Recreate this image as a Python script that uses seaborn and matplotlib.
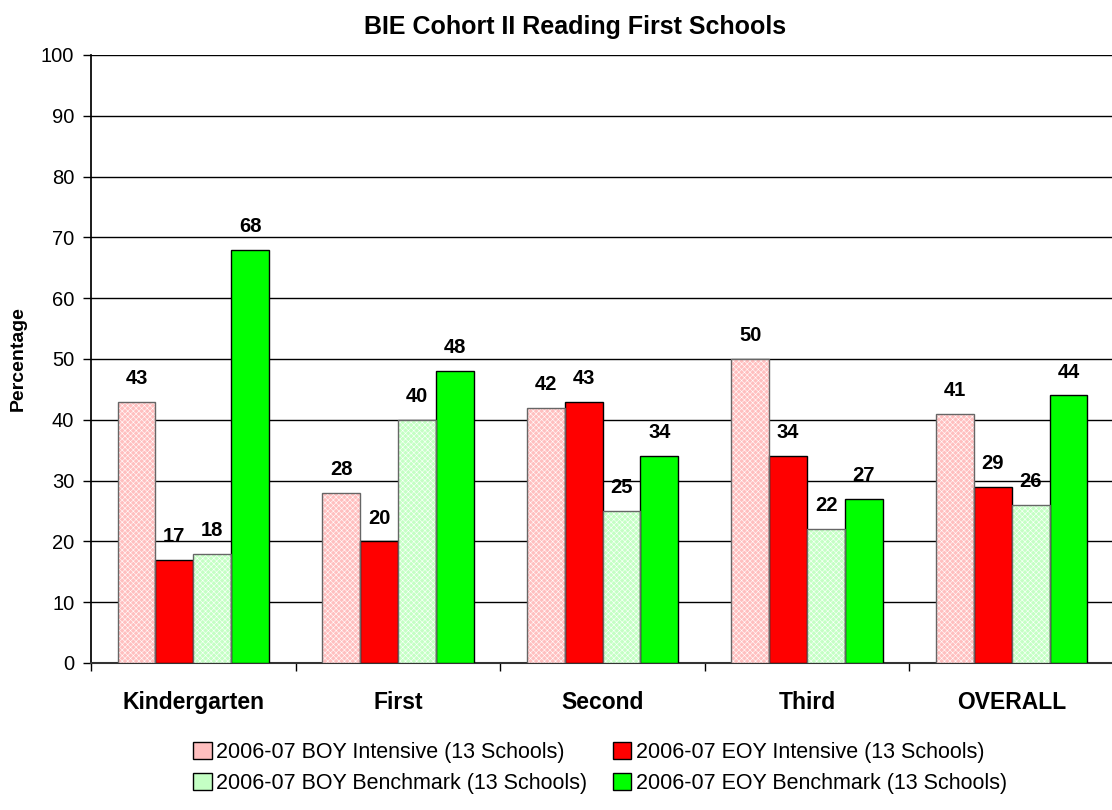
import matplotlib
matplotlib.use("Agg")
import matplotlib.pyplot as plt
import seaborn as sns
import pandas as pd
from matplotlib.patches import Rectangle, Patch

categories = ["Kindergarten", "First", "Second", "Third", "OVERALL"]
series = ["2006-07 BOY Intensive (13 Schools)", "2006-07 EOY Intensive (13 Schools)",
          "2006-07 BOY Benchmark (13 Schools)", "2006-07 EOY Benchmark (13 Schools)"]
boy_intensive = [43, 28, 42, 50, 41]
eoy_intensive = [17, 20, 43, 34, 29]
boy_benchmark = [18, 40, 25, 22, 26]
eoy_benchmark = [68, 48, 34, 27, 44]
yticks = [0, 10, 20, 30, 40, 50, 60, 70, 80, 90, 100]

colors = ["#FFBFBF", "#FF0000", "#C4FFC4", "#00FF00"]
hatched = [True, False, True, False]

rows = []
for s, vals in zip(series, [boy_intensive, eoy_intensive, boy_benchmark, eoy_benchmark]):
    for c, v in zip(categories, vals):
        rows.append({"cat": c, "series": s, "val": v})
df = pd.DataFrame(rows)

sns.set_theme(style="white")
plt.rcParams['font.family'] = ['Liberation Sans', 'DejaVu Sans']
plt.rcParams['hatch.linewidth'] = 0.4
plt.rcParams['text.color'] = 'black'

fig = plt.figure(figsize=(11.12, 8.10), dpi=100)
ax = fig.add_axes([91 / 1112, 1 - 663 / 810, (1114 - 91) / 1112, (663 - 55) / 810])

sns.barplot(data=df, x="cat", y="val", hue="series", order=categories, hue_order=series,
            palette=colors, width=0.74, edgecolor="black", linewidth=1.0, saturation=1,
            ax=ax, legend=False, zorder=3)

n = len(categories)
for i, cont in enumerate(ax.containers):
    for bar in cont:
        if hatched[i]:
            bar.set_hatch("xxxxxx")
            bar.set_edgecolor("#FFFFFF")
            bar.set_linewidth(0)
            ax.add_patch(Rectangle(bar.get_xy(), bar.get_width(), bar.get_height(),
                                   fill=False, edgecolor="#666666", linewidth=1.0, zorder=4))
    ax.bar_label(cont, fmt="%d", padding=10, fontsize=14.5, fontweight="bold", color="black")

ax.set_ylim(0, 100)
ax.set_yticks(yticks)
ax.set_xlim(-0.5, n - 0.5)
ax.yaxis.grid(True, color="black", linewidth=1.0, zorder=0)
ax.set_axisbelow(True)
for sp in ["top", "right"]:
    ax.spines[sp].set_visible(False)
ax.spines["left"].set_color("black")
ax.spines["bottom"].set_color("#333333")
ax.spines["bottom"].set_linewidth(1.5)

ax.tick_params(axis="y", which="both", left=True, length=6, width=1, color="black",
               labelsize=14.5, pad=6, direction="out", labelcolor="black")
ax.tick_params(axis="x", which="major", bottom=False, labelsize=16.5, pad=14, labelcolor="black")
ax.set_xticks(range(n))
ax.set_xticklabels(categories, fontweight="bold")
ax.set_xticks([i - 0.5 for i in range(n + 1)], minor=True)
ax.tick_params(axis="x", which="minor", bottom=True, length=6, width=1, color="black", direction="out")

ax.set_xlabel("")
ax.set_ylabel("Percentage", fontsize=14, fontweight="bold", color="black")
ax.yaxis.set_label_coords(-(91 - 27) / (1114 - 91), 0.5)
fig.text(575 / 1112, 1 - 27 / 810, "BIE Cohort II Reading First Schools", fontsize=18,
         fontweight="bold", ha="center", va="center", color="black")

handles = {}
for c, s in zip(colors, series):
    handles[s] = Patch(facecolor=c, edgecolor="black", linewidth=1.0, label=s)
order = [series[0], series[2], series[1], series[3]]
fig.legend(handles=[handles[s] for s in order], loc="center", bbox_to_anchor=(600 / 1112, 1 - 768 / 810),
           ncol=2, frameon=False, fontsize=15.5, handlelength=0.85, handleheight=0.85,
           handletextpad=0.2, columnspacing=1.2, labelspacing=0.45)

fig.savefig("out.png", dpi=100)
